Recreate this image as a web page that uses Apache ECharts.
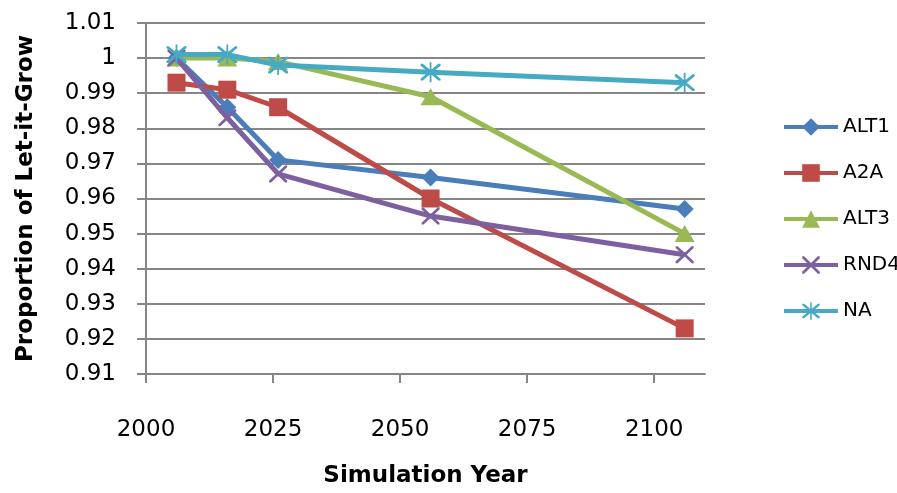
<!DOCTYPE html>
<html>
<head>
<meta charset="utf-8">
<script src="https://cdn.jsdelivr.net/npm/echarts@6/dist/echarts.min.js"></script>
<style>html,body{margin:0;padding:0;background:#fff;}#c{width:897px;height:493px;}</style>
</head>
<body>
<div id="c"></div>
<script>
const years = [2006, 2016, 2026, 2056, 2106];
const seriesNames = ['ALT1', 'A2A', 'ALT3', 'RND4', 'NA'];
const alt1 = [1.000, 0.986, 0.971, 0.966, 0.957];
const a2a = [0.993, 0.991, 0.986, 0.960, 0.923];
const alt3 = [1.000, 1.000, 0.999, 0.989, 0.950];
const rnd4 = [1.000, 0.983, 0.967, 0.955, 0.944];
const na = [1.001, 1.001, 0.998, 0.996, 0.993];
const xTicks = [2000, 2025, 2050, 2075, 2100];

const colors = ['#4A7EBB', '#BE4B48', '#98B954', '#7D60A0', '#46AAC5'];
const xPath = 'path://M0,0 L2.2,0 L10,7.8 L17.8,0 L20,0 L20,2.2 L12.2,10 L20,17.8 L20,20 L17.8,20 L10,12.2 L2.2,20 L0,20 L0,17.8 L7.8,10 L0,2.2 Z';
const starPath = xPath + ' M9.1,-2 L10.9,-2 L10.9,22 L9.1,22 Z';
const symbols = ['diamond', 'rect', 'triangle', xPath, starPath];
const sizes = [[18, 18], [18, 18], [20, 17], [18, 17], [20, 20]];
const allData = [alt1, a2a, alt3, rnd4, na];

const font = '"DejaVu Sans", sans-serif';
const chart = echarts.init(document.getElementById('c'), null, {renderer: 'canvas'});
chart.setOption({
  animation: false,
  backgroundColor: '#fff',
  grid: {left: 146, top: 23, right: 192, bottom: 114, containLabel: false},
  legend: {
    orient: 'vertical', left: 777, top: 112, itemGap: 26,
    itemWidth: 54, itemHeight: 22,
    lineStyle: {width: 4},
    textStyle: {fontFamily: font, fontSize: 20, color: '#000'},
    data: seriesNames
  },
  xAxis: {
    type: 'value', min: 2000, max: 2110, interval: 25,
    name: 'Simulation Year', nameLocation: 'middle', nameGap: 91,
    nameTextStyle: {fontFamily: font, fontSize: 23, fontWeight: 'bold', color: '#000'},
    axisLine: {show: true, lineStyle: {color: '#868686', width: 2}},
    axisTick: {show: true, length: 9, lineStyle: {color: '#868686', width: 2}, customValues: xTicks},
    axisLabel: {fontFamily: font, fontSize: 23, color: '#000', margin: 45, customValues: xTicks,
      formatter: v => String(v)},
    splitLine: {show: false}
  },
  yAxis: {
    type: 'value', min: 0.91, max: 1.01, interval: 0.01,
    name: 'Proportion of Let-it-Grow', nameLocation: 'middle', nameGap: 108, nameRotate: 90,
    nameTextStyle: {fontFamily: font, fontSize: 23, fontWeight: 'bold', color: '#000'},
    axisLine: {show: true, lineStyle: {color: '#868686', width: 2}},
    axisTick: {show: true, length: 9, lineStyle: {color: '#868686', width: 2}},
    axisLabel: {fontFamily: font, fontSize: 23, color: '#000', margin: 30,
      formatter: v => String(+v.toFixed(2))},
    splitLine: {show: true, lineStyle: {color: '#868686', width: 2}}
  },
  series: seriesNames.map((n, i) => ({
    name: n, type: 'line',
    data: years.map((y, j) => [y, allData[i][j]]),
    symbol: symbols[i], symbolSize: sizes[i],
    showAllSymbol: true,
    lineStyle: {color: colors[i], width: 5},
    itemStyle: {color: colors[i], borderWidth: 0},
    emphasis: {disabled: true},
    z: 2 + i
  }))
});
</script>
</body>
</html>
